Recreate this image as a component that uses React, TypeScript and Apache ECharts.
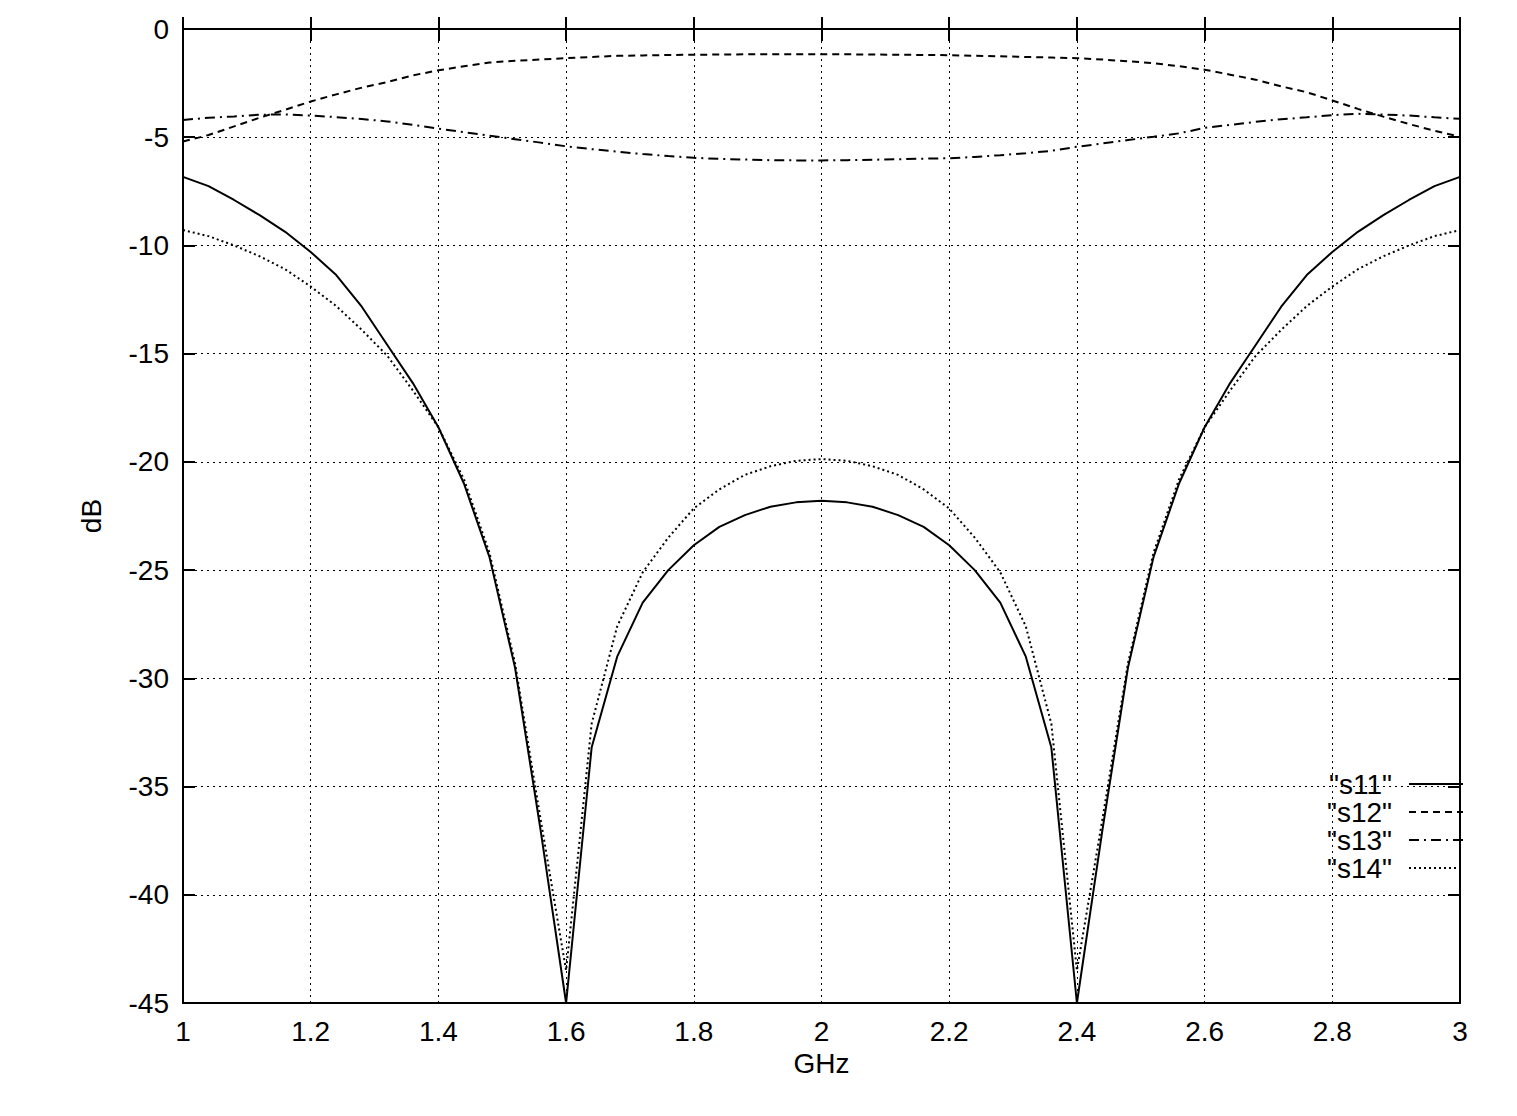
import React, { useEffect, useRef } from "react";
import * as echarts from "echarts";

const FREQ_GHZ = [
  1.0, 1.04, 1.08, 1.12, 1.16, 1.2, 1.24, 1.28, 1.32, 1.36, 1.4, 1.44, 1.48, 1.52, 1.56, 1.6, 1.64, 1.68, 1.72, 1.76,
  1.8, 1.84, 1.88, 1.92, 1.96, 2.0, 2.04, 2.08, 2.12, 2.16, 2.2, 2.24, 2.28, 2.32, 2.36, 2.4, 2.44, 2.48, 2.52, 2.56,
  2.6, 2.64, 2.68, 2.72, 2.76, 2.8, 2.84, 2.88, 2.92, 2.96, 3.0,
];

const S11 = [
  -6.83, -7.26, -7.9, -8.6, -9.37, -10.3, -11.37, -12.83, -14.6, -16.36, -18.4, -21.0, -24.4, -29.5, -37.0, -45.0,
  -33.2, -29.0, -26.5, -25.0, -23.85, -23.0, -22.46, -22.07, -21.87, -21.8, -21.87, -22.07, -22.46, -23.0, -23.85,
  -25.0, -26.5, -29.0, -33.2, -45.0, -37.0, -29.5, -24.4, -21.0, -18.4, -16.36, -14.6, -12.83, -11.37, -10.3, -9.37,
  -8.6, -7.9, -7.26, -6.83,
];

const S12 = [
  -5.2, -4.9, -4.5, -4.1, -3.73, -3.35, -3.02, -2.71, -2.45, -2.14, -1.91, -1.72, -1.55, -1.47, -1.41, -1.35, -1.29,
  -1.24, -1.22, -1.2, -1.19, -1.18, -1.17, -1.17, -1.17, -1.17, -1.17, -1.18, -1.19, -1.2, -1.21, -1.24, -1.26, -1.29,
  -1.32, -1.35, -1.41, -1.49, -1.58, -1.72, -1.88, -2.11, -2.34, -2.65, -2.92, -3.3, -3.69, -4.05, -4.39, -4.7, -4.98,
];

const S13 = [
  -4.2, -4.1, -4.04, -3.96, -3.95, -4.0, -4.07, -4.16, -4.27, -4.43, -4.6, -4.77, -4.93, -5.09, -5.25, -5.42, -5.55,
  -5.67, -5.78, -5.87, -5.95, -6.0, -6.03, -6.06, -6.07, -6.07, -6.06, -6.04, -6.02, -5.99, -5.97, -5.91, -5.83, -5.74,
  -5.63, -5.44, -5.29, -5.13, -4.98, -4.82, -4.57, -4.43, -4.29, -4.17, -4.08, -3.98, -3.92, -3.95, -4.0, -4.08, -4.15,
];

const S14 = [
  -9.29, -9.57, -10.0, -10.5, -11.1, -11.9, -12.8, -13.9, -15.1, -16.7, -18.4, -20.8, -24.2, -29.3, -36.5, -43.5,
  -32.1, -27.6, -25.1, -23.5, -22.15, -21.27, -20.6, -20.2, -19.95, -19.87, -19.95, -20.2, -20.6, -21.27, -22.15,
  -23.5, -25.1, -27.6, -32.1, -43.5, -36.5, -29.3, -24.2, -20.8, -18.4, -16.7, -15.1, -13.9, -12.8, -11.9, -11.1,
  -10.5, -10.0, -9.57, -9.29,
];

const SERIES_NAMES = ['"s11"', '"s12"', '"s13"', '"s14"'];
const X_LABEL = "GHz";
const Y_LABEL = "dB";

const FONT = "'Liberation Sans', Arial, Helvetica, sans-serif";

export default function App() {
  const ref = useRef<HTMLDivElement>(null);

  useEffect(() => {
    if (!ref.current) return;
    const chart = echarts.init(ref.current, undefined, { renderer: "svg" });

    const values = [S11, S12, S13, S14];
    const dashes: any[] = ["solid", [7, 5], [10, 5, 2, 5], [2, 3]];

    const tickStyle = { inside: true, length: 12, lineStyle: { color: "#000", width: 2 } };

    chart.setOption({
      animation: false,
      backgroundColor: "#fff",
      textStyle: { fontFamily: FONT, color: "#000" },
      grid: {
        left: 183,
        right: 57,
        top: 29,
        bottom: 113,
        show: true,
        borderColor: "#000",
        borderWidth: 2,
        backgroundColor: "transparent",
      },
      legend: {
        orient: "vertical",
        right: 48,
        top: 765,
        align: "right",
        itemWidth: 54,
        itemHeight: 12,
        itemGap: 0,
        itemStyle: { color: "rgba(0,0,0,0)", borderColor: "rgba(0,0,0,0)", borderWidth: 0, opacity: 0 },
        textStyle: {
          fontFamily: FONT,
          fontSize: 28,
          color: "#000",
          lineHeight: 27,
          padding: [0, 12, 0, 0],
        },
        data: SERIES_NAMES,
      },
      xAxis: [
        {
          type: "value",
          min: 1,
          max: 3,
          interval: 0.2,
          position: "bottom",
          name: X_LABEL,
          nameLocation: "middle",
          nameGap: 46,
          nameTextStyle: { fontFamily: FONT, fontSize: 28, color: "#000" },
          axisLine: { show: false },
          axisTick: tickStyle,
          axisLabel: {
            fontFamily: FONT,
            fontSize: 28,
            color: "#000",
            margin: 14,
            formatter: (v: number) => String(Number(v.toFixed(1))),
          },
          splitLine: { show: true, lineStyle: { color: "#000", width: 1, type: [2, 4] } },
        },
        {
          type: "value",
          min: 1,
          max: 3,
          interval: 0.2,
          position: "top",
          axisLine: { show: false },
          axisTick: tickStyle,
          axisLabel: { show: false },
          splitLine: { show: false },
        },
      ],
      yAxis: [
        {
          type: "value",
          min: -45,
          max: 0,
          interval: 5,
          position: "left",
          name: Y_LABEL,
          nameLocation: "middle",
          nameRotate: 90,
          nameGap: 78,
          nameTextStyle: { fontFamily: FONT, fontSize: 28, color: "#000" },
          axisLine: { show: false },
          axisTick: tickStyle,
          axisLabel: { fontFamily: FONT, fontSize: 28, color: "#000", margin: 14 },
          splitLine: { show: true, lineStyle: { color: "#000", width: 1, type: [2, 4] } },
        },
        {
          type: "value",
          min: -45,
          max: 0,
          interval: 5,
          position: "right",
          axisLine: { show: false },
          axisTick: tickStyle,
          axisLabel: { show: false },
          splitLine: { show: false },
        },
      ],
      series: SERIES_NAMES.map((name, i) => ({
        name,
        type: "line",
        xAxisIndex: 0,
        yAxisIndex: 0,
        symbol: "none",
        showSymbol: false,
        smooth: false,
        clip: true,
        data: FREQ_GHZ.map((f, k) => [f, values[i][k]]),
        lineStyle: { color: "#000", width: 2, type: dashes[i] },
        itemStyle: { color: "#000" },
      })),
    });

    return () => chart.dispose();
  }, []);

  return (
    <div
      ref={ref}
      style={{ position: "fixed", left: 0, top: 0, width: 1517, height: 1116, background: "#fff" }}
    />
  );
}
